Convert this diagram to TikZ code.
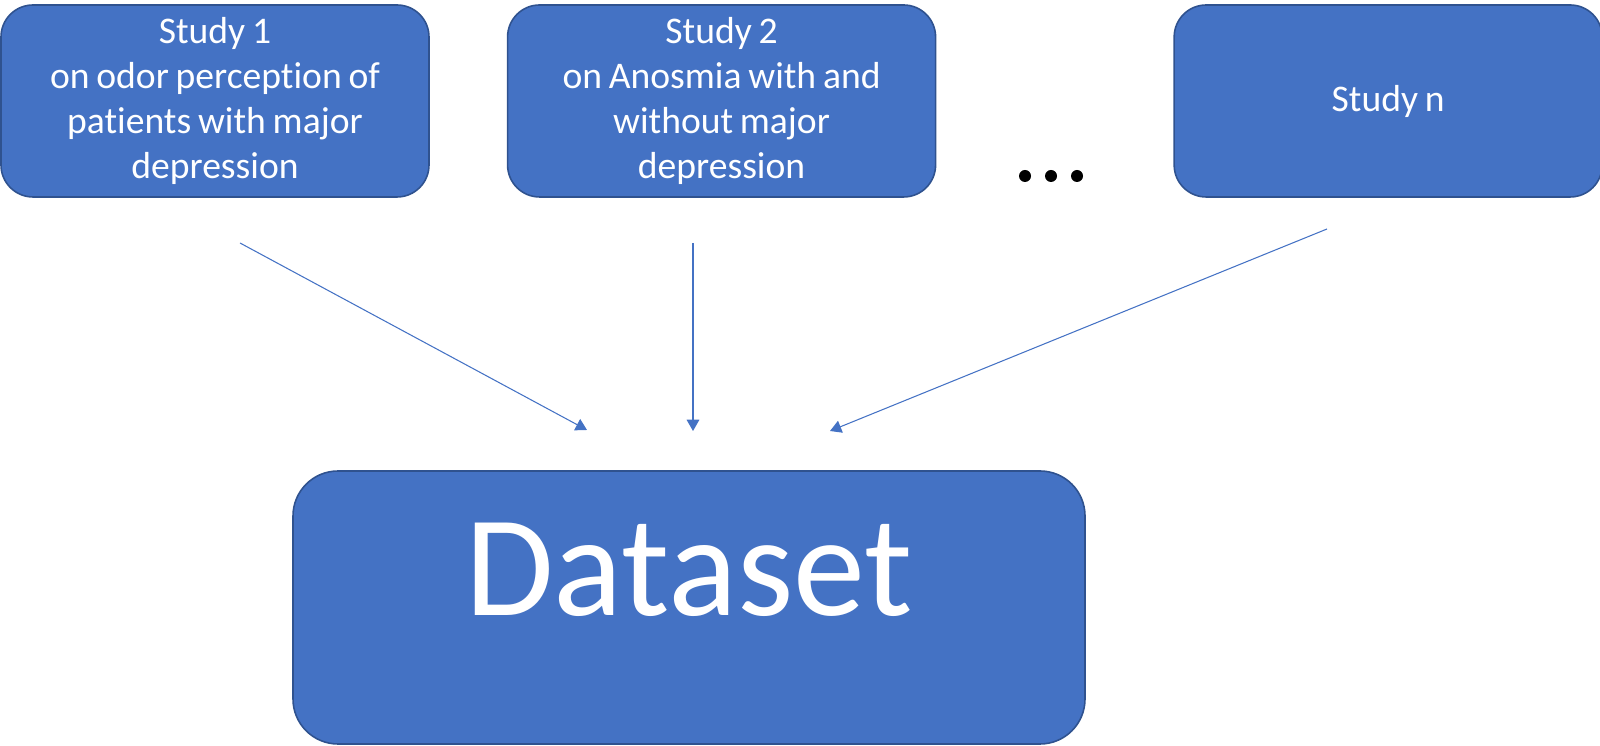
\documentclass[tikz,border=0pt]{standalone}
\usepackage{fontspec}
\setmainfont[RawFeature={-liga;-clig},WordSpace={0.8,0,0}]{Carlito}
\usepackage{tikz}
\usetikzlibrary{positioning,arrows.meta,calc}
\definecolor{boxblue}{HTML}{4472C4}
\definecolor{boxedge}{HTML}{2F528F}

\begin{document}
\begin{tikzpicture}[->,>={Triangle[length=3.2pt,width=3.6pt]}, line width=0.3pt, node distance=0.77cm,
	study/.style={rectangle, rounded corners=0.32cm, draw=boxedge, line width=0.45pt, fill=boxblue, text=white, minimum width=4.28cm, minimum height=1.92cm, text width=4.1cm, align=flush center, inner sep=0pt, font=\fontsize{10.7}{12.8}\selectfont},
	data/.style={rectangle, rounded corners=0.45cm, draw=boxedge, line width=0.45pt, fill=boxblue, text=white, minimum width=7.92cm, minimum height=2.73cm, text depth=0.76cm, inner sep=0pt, font=\fontsize{41}{48}\selectfont},
	link/.style={draw=boxblue}]
	\useasboundingbox (0,0) rectangle (16,-7.46);
	
	\node [study] (study1) at (2.15,-1.01) {Study 1\\on odor perception of\\patients with major\\depression};
	\node [study] (study2) [right=of study1] {Study 2\\on Anosmia with and\\without major\\depression};
	\node [study] (studyn) [right=2.37cm of study2] {Study n};
	
	\node [data] (dataset) at (6.89,-6.075) {Dataset};
	
	% dots between study 2 and study n
	\foreach \x in {10.25,10.51,10.77}
		\fill [black] (\x,-1.76) circle (0.06);
	
	\coordinate (from1) at (2.40,-2.43);
	\coordinate (from2) at (6.93,-2.43);
	\coordinate (fromn) at (13.27,-2.29);
	\coordinate (to1) at (5.87,-4.30);
	\coordinate (to2) at (6.93,-4.31);
	\coordinate (ton) at (8.30,-4.31);
	
	\path (from1) edge [link] (to1);
	\path (from2) edge [link] (to2);
	\path (fromn) edge [link] (ton);
\end{tikzpicture}
\end{document}
